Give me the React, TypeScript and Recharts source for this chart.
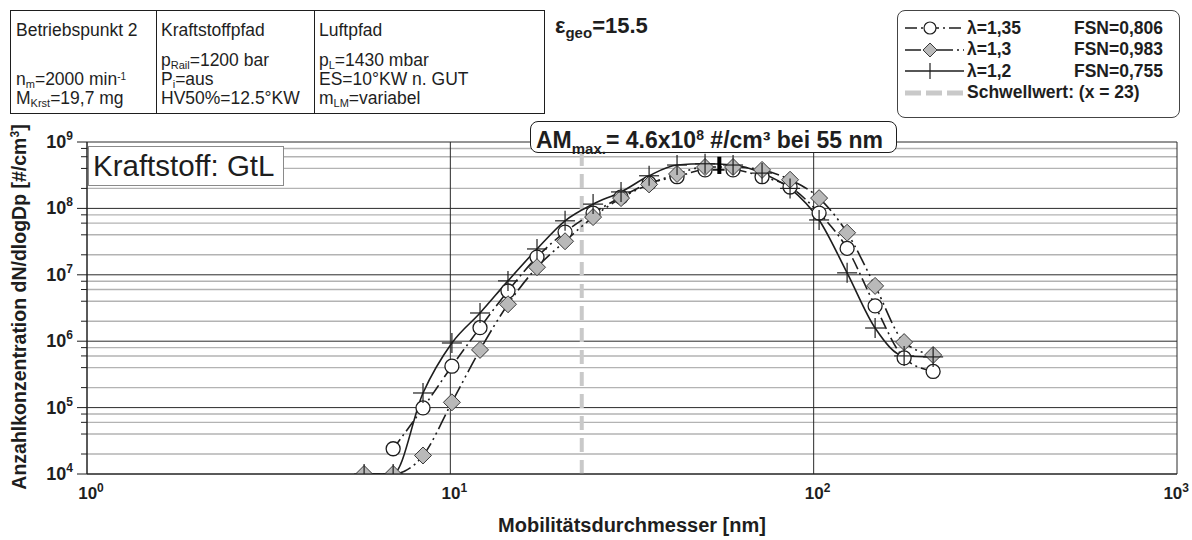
import React from 'react';
import { ComposedChart, Line, XAxis, YAxis, ReferenceLine } from 'recharts';

// Mobilitätsdurchmesser [nm] der Messkanäle
const diameters = [5.79, 6.96, 8.41, 10.1, 12.07, 14.41, 17.32, 20.69, 24.71, 29.5, 35.24, 42.07, 50.24, 60.0, 72.1, 86.1, 103.5, 123.6, 147.6, 177.4, 213.2];

// Anzahlkonzentration dN/dlogDp [#/cm³]
const lambda135 = [null, 2.4e4, 9.9e4, 4.2e5, 1.6e6, 5.7e6, 1.85e7, 4.4e7, 8.5e7, 1.48e8, 2.4e8, 3.0e8, 3.8e8, 3.8e8, 3.0e8, 2.1e8, 8.5e7, 2.5e7, 3.4e6, 5.6e5, 3.5e5];
const lambda13 = [1e4, 1e4, 1.9e4, 1.2e5, 7.4e5, 3.6e6, 1.3e7, 3.2e7, 7.4e7, 1.43e8, 2.3e8, 3.3e8, 4.2e8, 4.2e8, 3.8e8, 2.7e8, 1.43e8, 4.3e7, 6.8e6, 9.7e5, 6.2e5];
const lambda12 = [1e4, 1e4, 1.66e5, 9.4e5, 2.66e6, 8.1e6, 2.45e7, 6.5e7, 1.16e8, 1.77e8, 3.1e8, 4.5e8, 4.7e8, 4.5e8, 3.4e8, 2.0e8, 6.7e7, 1.07e7, 1.58e6, 6.0e5, 5.8e5];

const xTicks = [1, 10, 100, 1000];
const yDecades = [1e4, 1e5, 1e6, 1e7, 1e8, 1e9];
const minorSteps = [2, 4, 6, 8];
const threshold = 23;
const amMaxDiameter = 55;
const amMaxSpan = [3.3e8, 6.0e8];

const data = diameters.map((d, i) => ({ d, l135: lambda135[i], l13: lambda13[i], l12: lambda12[i] }));
const yMinor = yDecades.slice(0, -1).flatMap(dec => minorSteps.map(m => dec * m));
const yTicks = [...yDecades, ...yMinor].sort((a, b) => a - b);

const FONT = '"Liberation Sans", Arial, sans-serif';
const INK = '#1e1e1e';
const PLOT_LEFT = 87;

const CircleDot = (p: any) => {
    if (p.value == null || p.cy == null) return <g key={p.key} />;
    return <circle key={p.key} cx={p.cx} cy={p.cy} r={7} fill="#fff" stroke={INK} strokeWidth={1.3} />;
};
const DiamondDot = (p: any) => {
    if (p.value == null || p.cy == null) return <g key={p.key} />;
    const s = 8.5;
    return (
        <polygon key={p.key} points={`${p.cx},${p.cy - s} ${p.cx + s},${p.cy} ${p.cx},${p.cy + s} ${p.cx - s},${p.cy}`}
            fill="#b9b9b9" stroke="#3a3a3a" strokeWidth={1} />
    );
};
const PlusDot = (p: any) => {
    if (p.value == null || p.cy == null) return <g key={p.key} />;
    return (
        <g key={p.key} stroke={INK} strokeWidth={1.2}>
            <line x1={p.cx - 10} x2={p.cx + 10} y1={p.cy} y2={p.cy} />
            <line x1={p.cx} x2={p.cx} y1={p.cy - 10} y2={p.cy + 10} />
        </g>
    );
};

const XTick = ({ x, y, payload }: any) => {
    const exp = Math.round(Math.log10(payload.value));
    const last = payload.value === xTicks[xTicks.length - 1];
    return (
        <text x={last ? x + 12 : x + 4} y={y + 17} textAnchor={last ? 'end' : 'middle'} fontFamily={FONT} fontWeight="bold" fontSize={17} fill={INK}>
            <tspan>10</tspan>
            <tspan dy={-7} fontSize={12}>{exp}</tspan>
        </text>
    );
};

const YTick = ({ y, payload }: any) => {
    const lg = Math.log10(payload.value);
    const major = Math.abs(lg - Math.round(lg)) < 1e-6;
    return (
        <g>
            <line x1={PLOT_LEFT - (major ? 10 : 6)} x2={PLOT_LEFT} y1={y} y2={y} stroke={INK} strokeWidth={1} />
            {major && (
                <text x={PLOT_LEFT - 14} y={y + 6} textAnchor="end" fontFamily={FONT} fontWeight="bold" fontSize={18} fill={INK}>
                    <tspan>10</tspan>
                    <tspan dy={-8} fontSize={12}>{Math.round(lg)}</tspan>
                </text>
            )}
        </g>
    );
};

const sub = (t: string) => <span style={{ fontSize: 11, verticalAlign: -3, lineHeight: 0 }}>{t}</span>;
const sup = (t: string) => <span style={{ fontSize: 10, verticalAlign: 5, lineHeight: 0 }}>{t}</span>;

const cellLine = (mid: number, content: React.ReactNode) => (
    <div style={{ position: 'absolute', left: 5, top: mid - 8, height: 16, lineHeight: '16px', whiteSpace: 'nowrap' }}>{content}</div>
);

const legendRows = [
    { label: 'λ=1,35', fsn: 'FSN=0,806', dash: '12 4 2 4', marker: 'circle' },
    { label: 'λ=1,3', fsn: 'FSN=0,983', dash: '16 4 2 4 2 4', marker: 'diamond' },
    { label: 'λ=1,2', fsn: 'FSN=0,755', dash: undefined, marker: 'plus' },
];

const LegendSample = ({ dash, marker }: { dash?: string; marker: string }) => (
    <svg width={62} height={16} style={{ display: 'block' }}>
        <line x1={1} x2={60} y1={8} y2={8} stroke={INK} strokeWidth={1.5} strokeDasharray={dash} />
        {marker === 'circle' && <circle cx={26} cy={8} r={6} fill="#fff" stroke={INK} strokeWidth={1.2} />}
        {marker === 'diamond' && <polygon points="26,1 33,8 26,15 19,8" fill="#b9b9b9" stroke="#3a3a3a" />}
        {marker === 'plus' && <line x1={26} x2={26} y1={0} y2={16} stroke={INK} strokeWidth={1.2} />}
    </svg>
);

export default function App() {
    return (
        <div style={{ position: 'absolute', left: 0, top: 0, width: 1192, height: 540, background: '#fff', fontFamily: FONT, color: INK }}>
            <ComposedChart width={1192} height={540} data={data} margin={{ top: 142, right: 15, left: 27, bottom: 36 }}>
                <XAxis dataKey="d" type="number" scale="log" domain={[1, 1000]} ticks={xTicks} allowDataOverflow
                    height={30} tick={<XTick />} tickLine={false} axisLine={{ stroke: INK }} interval={0} />
                <YAxis type="number" scale="log" domain={[1e4, 1e9]} ticks={yTicks} allowDataOverflow
                    width={60} tick={<YTick />} tickLine={false} axisLine={{ stroke: INK }} interval={0} />

                {yMinor.map(v => (
                    <ReferenceLine key={`m${v}`} y={v} stroke="#b3b3b3" strokeWidth={1.4} />
                ))}
                {yDecades.map(v => (
                    <ReferenceLine key={`M${v}`} y={v} stroke="#2a2a2a" strokeWidth={1} />
                ))}
                {xTicks.map(v => (
                    <ReferenceLine key={`x${v}`} x={v} stroke="#2a2a2a" strokeWidth={1} />
                ))}
                <ReferenceLine x={threshold} stroke="#c9c9c9" strokeWidth={4} strokeDasharray="14 8" />

                <Line dataKey="l135" type="monotone" stroke={INK} strokeWidth={1.6} strokeDasharray="12 4 2 4"
                    dot={CircleDot} activeDot={false} isAnimationActive={false} connectNulls={false} />
                <Line dataKey="l13" type="monotone" stroke={INK} strokeWidth={1.6} strokeDasharray="16 4 2 4 2 4"
                    dot={DiamondDot} activeDot={false} isAnimationActive={false} />
                <Line dataKey="l12" type="monotone" stroke={INK} strokeWidth={1.6}
                    dot={PlusDot} activeDot={false} isAnimationActive={false} />

                <ReferenceLine segment={[{ x: amMaxDiameter, y: amMaxSpan[0] }, { x: amMaxDiameter, y: amMaxSpan[1] }]}
                    stroke="#000" strokeWidth={4} />
            </ComposedChart>

            {/* Betriebspunkt-Tabelle */}
            <div style={{ position: 'absolute', left: 10, top: 10, width: 535, height: 104, border: `1px solid ${INK}`, boxSizing: 'border-box', fontSize: 17.5 }}>
                <div style={{ position: 'absolute', left: 0, top: 0, width: 145, height: '100%', borderRight: `1px solid ${INK}` }}>
                    {cellLine(19, 'Betriebspunkt 2')}
                    {cellLine(68, <>n{sub('m')}=2000 min{sup('-1')}</>)}
                    {cellLine(87, <>M{sub('Krst')}=19,7 mg</>)}
                </div>
                <div style={{ position: 'absolute', left: 145, top: 0, width: 158, height: '100%', borderRight: `1px solid ${INK}` }}>
                    {cellLine(19, 'Kraftstoffpfad')}
                    {cellLine(49, <>p{sub('Rail')}=1200 bar</>)}
                    {cellLine(68, <>P{sub('i')}=aus</>)}
                    {cellLine(87, 'HV50%=12.5°KW')}
                </div>
                <div style={{ position: 'absolute', left: 303, top: 0, width: 230, height: '100%' }}>
                    {cellLine(19, 'Luftpfad')}
                    {cellLine(49, <>p{sub('L')}=1430 mbar</>)}
                    {cellLine(68, 'ES=10°KW n. GUT')}
                    {cellLine(87, <>m{sub('LM')}=variabel</>)}
                </div>
            </div>

            <div style={{ position: 'absolute', left: 555, top: 13, fontSize: 22, fontWeight: 'bold', whiteSpace: 'nowrap' }}>
                ε<span style={{ fontSize: 15, verticalAlign: -5 }}>geo</span>=15.5
            </div>

            {/* Legende */}
            <div style={{ position: 'absolute', left: 897, top: 10, width: 283, height: 108, border: '1px solid #444', borderRadius: 8, boxSizing: 'border-box', background: '#fff', fontSize: 17.5, fontWeight: 'bold' }}>
                {legendRows.map((r, i) => (
                    <div key={r.label} style={{ position: 'absolute', left: 6, top: 8 + i * 21.5, height: 18, display: 'flex', alignItems: 'center', whiteSpace: 'nowrap' }}>
                        <LegendSample dash={r.dash} marker={r.marker} />
                        <span style={{ marginLeft: 1, width: 107 }}>{r.label}</span>
                        <span>{r.fsn}</span>
                    </div>
                ))}
                <div style={{ position: 'absolute', left: 6, top: 8 + 3 * 21.5, height: 18, display: 'flex', alignItems: 'center', whiteSpace: 'nowrap' }}>
                    <svg width={62} height={16} style={{ display: 'block' }}>
                        <line x1={1} x2={60} y1={8} y2={8} stroke="#c9c9c9" strokeWidth={5} strokeDasharray="16 5" />
                    </svg>
                    <span style={{ marginLeft: 1 }}>Schwellwert: (x = 23)</span>
                </div>
            </div>

            {/* Kraftstoff-Kennzeichnung */}
            <div style={{ position: 'absolute', left: 88, top: 146, width: 196, height: 40, border: '1px solid #8a8a8a', boxSizing: 'border-box', background: '#fff', fontSize: 29.5, lineHeight: '38px', paddingLeft: 4, whiteSpace: 'nowrap' }}>
                Kraftstoff: GtL
            </div>

            {/* Maximum */}
            <div style={{ position: 'absolute', left: 530, top: 121, width: 367, height: 32, border: `1px solid ${INK}`, borderRadius: 8, boxSizing: 'border-box', background: '#fff', fontSize: 23, fontWeight: 'bold', lineHeight: '26px', paddingLeft: 5, whiteSpace: 'nowrap' }}>
                AM<span style={{ fontSize: 15, verticalAlign: -6 }}>max.</span>= 4.6x10<span style={{ fontSize: 14, verticalAlign: 8 }}>8</span> #/cm³ bei 55 nm
            </div>

            {/* Achsentitel */}
            <div style={{ position: 'absolute', left: 632, top: 525, transform: 'translate(-50%, -50%)', fontSize: 20, fontWeight: 'bold', whiteSpace: 'nowrap' }}>
                Mobilitätsdurchmesser [nm]
            </div>
            <div style={{ position: 'absolute', left: 19, top: 307, transform: 'translate(-50%, -50%) rotate(-90deg)', fontSize: 19.5, fontWeight: 'bold', whiteSpace: 'nowrap' }}>
                Anzahlkonzentration dN/dlogDp [#/cm<span style={{ fontSize: 12, verticalAlign: 7 }}>3</span>]
            </div>
        </div>
    );
}
